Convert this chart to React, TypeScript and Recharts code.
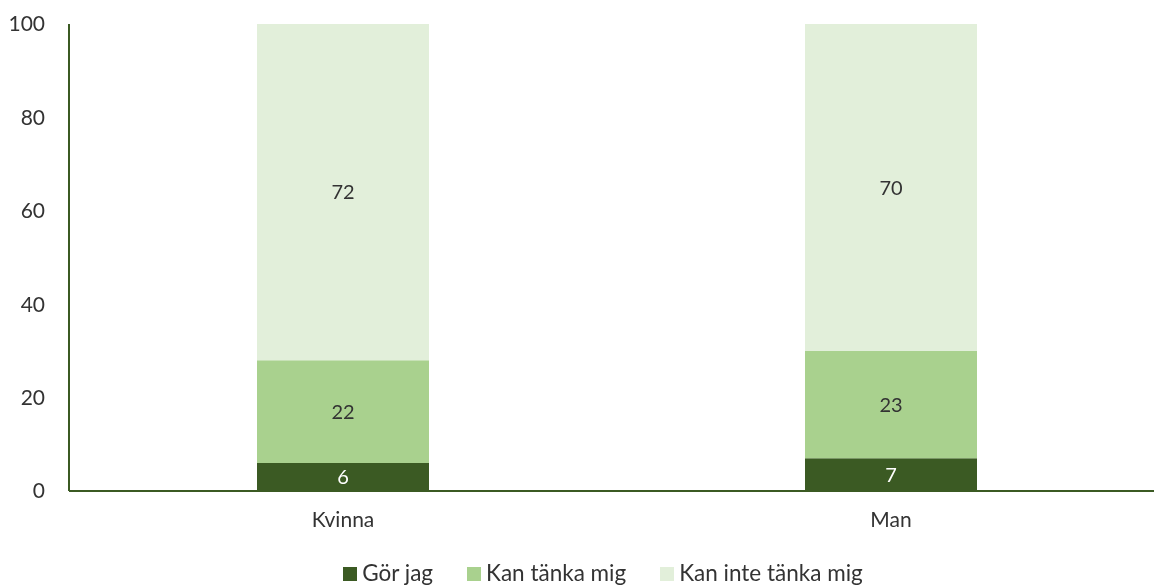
import { Bar, BarChart, LabelList, Legend, XAxis, YAxis } from "recharts";

const categories = ["Kvinna", "Man"];
const gorJag = [6, 7];
const kanTanka = [22, 23];
const kanInteTanka = [72, 70];
const yTicks = [0, 20, 40, 60, 80, 100];

const series = [
  { key: "gorJag", name: "Gör jag", color: "#3b5a23", label: "#ffffff" },
  { key: "kanTanka", name: "Kan tänka mig", color: "#a9d18e", label: "#333333" },
  { key: "kanInteTanka", name: "Kan inte tänka mig", color: "#e2efda", label: "#333333" },
];

const data = categories.map((c, i) => ({
  name: c,
  gorJag: gorJag[i],
  kanTanka: kanTanka[i],
  kanInteTanka: kanInteTanka[i],
}));

const font = "Lato, 'Open Sans', sans-serif";

const LegendContent = () => (
  <div
    style={{
      textAlign: "center",
      paddingLeft: 32,
      fontFamily: font,
      fontSize: 22.5,
      lineHeight: "24px",
      color: "#333",
      height: 24,
      whiteSpace: "nowrap",
    }}
  >
    {series.map((s, i) => (
      <span key={s.key} style={{ marginRight: i < series.length - 1 ? 34 : 0 }}>
        <span
          style={{
            width: 14,
            height: 14,
            background: s.color,
            marginRight: 5,
            display: "inline-block",
            verticalAlign: "baseline",
          }}
        />
        {s.name}
      </span>
    ))}
  </div>
);

export default function App() {
  return (
    <div style={{ position: "fixed", left: 0, top: 0, width: 1154, height: 586 }}>
      <BarChart
        width={1154}
        height={586}
        data={data}
        margin={{ top: 24, right: -20, left: 0, bottom: 1 }}
        barSize={172}
      >
        <XAxis
          dataKey="name"
          axisLine={{ stroke: "#3b5a23", strokeWidth: 2 }}
          tickLine={false}
          tickSize={0}
          tickMargin={21}
          height={70}
          padding={{ left: 0, right: 9 }}
          tick={{ fill: "#333", fontSize: 21, fontFamily: font }}
        />
        <YAxis
          domain={[0, 100]}
          ticks={yTicks}
          width={69}
          axisLine={{ stroke: "#3b5a23", strokeWidth: 2 }}
          tickLine={false}
          tickSize={0}
          tickMargin={24}
          tick={{ fill: "#333", fontSize: 21, fontFamily: font }}
        />
        {series.map((s) => (
          <Bar key={s.key} dataKey={s.key} name={s.name} stackId="a" fill={s.color} isAnimationActive={false}>
            <LabelList
              dataKey={s.key}
              position="center"
              fill={s.label}
              fontSize={20}
              fontFamily={font}
            />
          </Bar>
        ))}
        <Legend verticalAlign="bottom" content={<LegendContent />} />
      </BarChart>
    </div>
  );
}
